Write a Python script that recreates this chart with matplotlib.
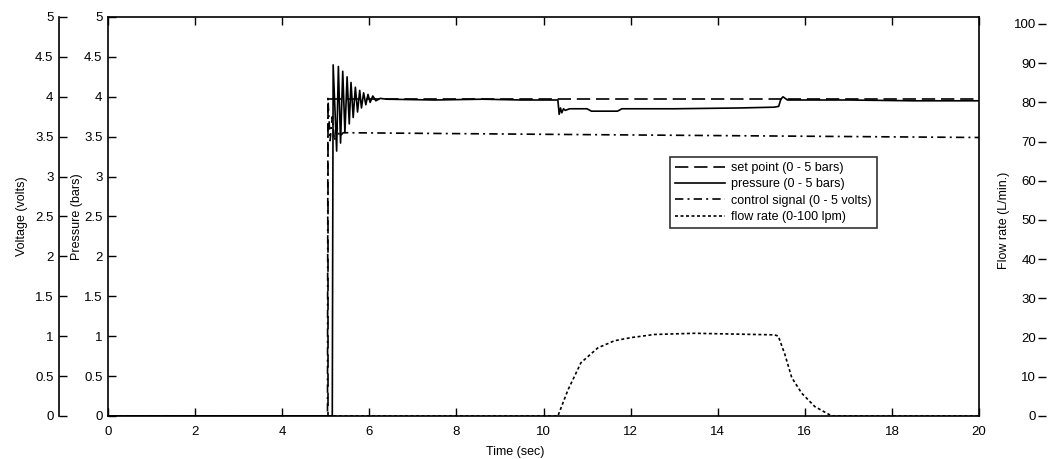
import matplotlib

matplotlib.use("Agg")
import matplotlib.pyplot as plt
from matplotlib.ticker import FormatStrFormatter

plt.rcParams["font.family"] = ["Liberation Sans", "DejaVu Sans"]

# ---- data ----
SETPOINT_T = [0, 5.05, 5.05, 20.0]
SETPOINT = [0, 0, 3.97, 3.97]

PRESSURE_T = [0, 5.15, 5.17, 5.25, 5.29, 5.34, 5.39, 5.44, 5.49, 5.54,
              5.58, 5.63, 5.68, 5.73, 5.78, 5.82, 5.87, 5.92, 5.97, 6.02,
              6.08, 6.15, 6.25, 6.4, 7.5, 8.6, 9.5, 10.33, 10.36, 10.39,
              10.42, 10.46, 10.5, 10.6, 11.0, 11.1, 11.7, 11.8, 13.0, 14.5,
              15.3, 15.4, 15.45, 15.5, 15.6, 17.0, 18.5, 20.0]
PRESSURE = [0, 0, 4.40, 3.32, 4.38, 3.42, 4.32, 3.55, 4.25, 3.66,
            4.18, 3.74, 4.12, 3.81, 4.08, 3.86, 4.05, 3.90, 4.03, 3.93,
            4.01, 3.95, 3.98, 3.97, 3.96, 3.97, 3.96, 3.96, 3.78, 3.86,
            3.80, 3.85, 3.83, 3.85, 3.85, 3.82, 3.82, 3.85, 3.85, 3.86,
            3.87, 3.88, 3.97, 4.00, 3.96, 3.96, 3.95, 3.95]

CONTROL_T = [0, 5.04, 5.05, 5.10, 5.15, 5.20, 5.26, 5.32, 5.40, 10.0, 15.0, 20.0]
CONTROL = [0, 0, 3.98, 3.45, 3.75, 3.45, 3.62, 3.50, 3.55, 3.53, 3.51, 3.49]

FLOW_T = [0, 10.33, 10.56, 10.86, 11.25, 11.63, 12.01, 12.55, 13.47, 14.39,
          15.30, 15.39, 15.54, 15.70, 15.93, 16.23, 16.62, 20.0]
FLOW = [0, 0, 6.6, 13.6, 17.4, 19.2, 20.0, 20.8, 21.1, 20.9,
        20.7, 20.4, 15.8, 9.8, 5.8, 2.4, 0, 0]

LABELS = ["set point (0 - 5 bars)", "pressure (0 - 5 bars)",
          "control signal (0 - 5 volts)", "flow rate (0-100 lpm)"]

W, H = 1054, 459
L, R, B, T = 108, 979, 416, 17  # main plot box in pixels
FLOW_TOP = 24
TICK_FS = 9.5
LABEL_FS = 9


def main() -> None:
    fig = plt.figure(figsize=(W / 100, H / 100), dpi=100)
    rect = [L / W, (H - B) / H, (R - L) / W, (B - T) / H]
    ax = fig.add_axes(rect)

    ln_sp, = ax.plot(SETPOINT_T, SETPOINT, color="k", lw=1.2, ls=(0, (8, 3.5)))
    ln_p, = ax.plot(PRESSURE_T, PRESSURE, color="k", lw=1.2)
    ln_c, = ax.plot(CONTROL_T, CONTROL, color="k", lw=1.2, ls=(0, (5, 2.5, 1.2, 2.5)))

    ax.set_xlim(0, 20)
    ax.set_ylim(0, 5)
    ax.set_xticks(range(0, 21, 2))
    ax.set_yticks([i * 0.5 for i in range(11)])
    ax.yaxis.set_major_formatter(FormatStrFormatter("%g"))
    ax.tick_params(direction="in", length=6, width=1.0, labelsize=TICK_FS,
                   top=True, right=True)
    ax.tick_params(axis="x", pad=7)
    ax.tick_params(axis="y", pad=4)
    ax.set_xlabel("Time (sec)", fontsize=LABEL_FS, labelpad=3)
    ax.xaxis.set_label_coords(0.468, -0.075)
    ax.set_ylabel("Pressure (bars)", fontsize=LABEL_FS, labelpad=1)
    for s in ax.spines.values():
        s.set_linewidth(1.2)

    # voltage axis: a bare spine left of the main box
    axv = ax.twinx()
    axv.set_ylim(0, 5)
    axv.yaxis.set_ticks_position("left")
    axv.yaxis.set_label_position("left")
    axv.spines["left"].set_visible(True)
    axv.spines["left"].set_position(("axes", (59 - L) / (R - L)))
    axv.spines["left"].set_linewidth(1.2)
    for k in ("right", "top", "bottom"):
        axv.spines[k].set_visible(False)
    axv.set_yticks([i * 0.5 for i in range(11)])
    axv.yaxis.set_major_formatter(FormatStrFormatter("%g"))
    axv.tick_params(direction="in", length=6, width=1.0, labelsize=TICK_FS, pad=4)
    axv.set_ylabel("Voltage (volts)", fontsize=LABEL_FS, labelpad=5)

    # flow-rate axis: bare spine on the far right, labels on its left side
    frect = [L / W, (H - B) / H, (R - L) / W, (B - FLOW_TOP) / H]
    axf = fig.add_axes(frect, frameon=False)
    ln_f, = axf.plot(FLOW_T, FLOW, color="k", lw=1.2, ls=(0, (1.8, 1.5)))
    axf.set_xlim(0, 20)
    axf.set_ylim(0, 100)
    axf.xaxis.set_visible(False)
    axf.spines["left"].set_visible(True)
    axf.spines["left"].set_position(("axes", (1046 - L) / (R - L)))
    axf.spines["left"].set_linewidth(1.2)
    axf.set_yticks(range(0, 101, 10))
    axf.tick_params(direction="out", length=6, width=1.0, labelsize=TICK_FS, pad=1)
    axf.set_ylabel("Flow rate (L/min.)", fontsize=LABEL_FS, labelpad=3)

    leg = axf.legend([ln_sp, ln_p, ln_c, ln_f], LABELS,
                     loc="upper left",
                     bbox_to_anchor=((670 - L) / (R - L), (B - 157) / (B - FLOW_TOP)),
                     fontsize=9, frameon=True, fancybox=False, edgecolor="k",
                     handlelength=4.0, handletextpad=0.5, labelspacing=0.35,
                     borderpad=0.4, borderaxespad=0)
    leg.get_frame().set_linewidth(1.2)

    fig.savefig("out.png", dpi=100)
    plt.close(fig)


if __name__ == "__main__":
    main()
